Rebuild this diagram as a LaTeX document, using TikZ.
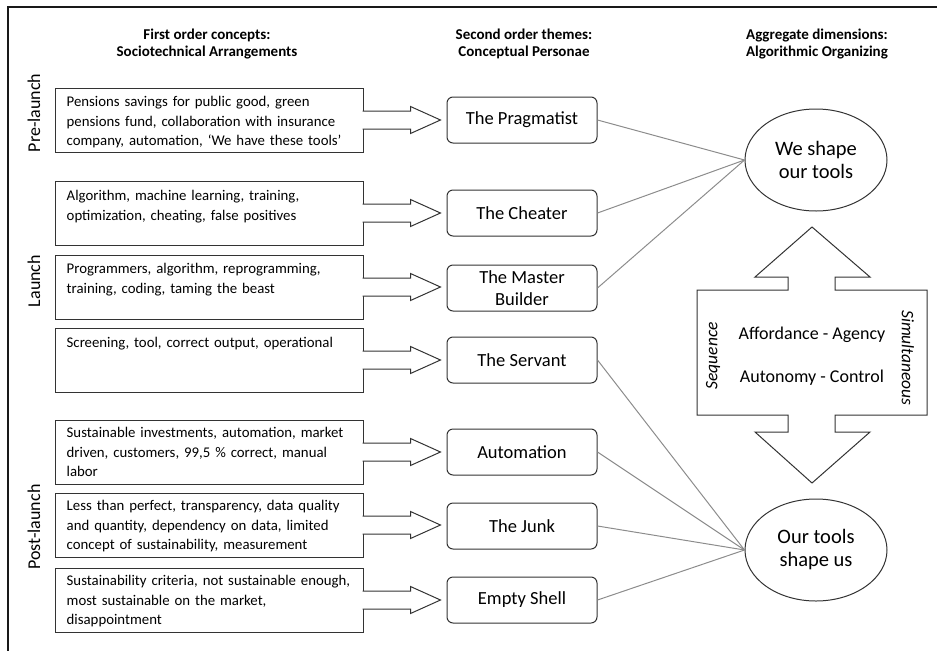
\documentclass[tikz,border=0pt]{standalone}
\usepackage{fontspec}
\setmainfont{Carlito}
\usetikzlibrary{calc,shapes.geometric}
\newcommand\blockarr[1]{%
  \draw[barrow] ([xshift=-1pt,yshift=9pt]#1.east) -- ([xshift=47pt,yshift=9pt]#1.east)
    -- ([xshift=47pt,yshift=13.5pt]#1.east) -- ([xshift=77pt]#1.east)
    -- ([xshift=47pt,yshift=-13.5pt]#1.east) -- ([xshift=47pt,yshift=-9pt]#1.east)
    -- ([xshift=-1pt,yshift=-9pt]#1.east);}
\begin{document}
\begin{tikzpicture}[x=1pt,y=-1pt,
  lbox/.style={draw=black!80, line width=1pt, minimum width=308pt, minimum height=64pt, inner sep=0pt},
  ltext/.style={anchor=north west, align=left, inner sep=0pt, text width=298pt, font=\fontsize{14.8}{19.5}\selectfont},
  mbox/.style={draw=black!80, line width=1pt, rounded corners=6pt, minimum width=150pt, minimum height=46pt, align=center, inner sep=1pt, font=\fontsize{18.5}{22.5}\selectfont},
  ell/.style={draw=black!80, line width=1pt, ellipse, minimum width=142pt, minimum height=102pt, inner sep=0pt, align=center, font=\fontsize{20.5}{23}\selectfont},
  barrow/.style={draw=black!80, line width=1pt, fill=white},
  link/.style={draw=black!45, line width=1pt},
  head/.style={font=\bfseries\fontsize{15}{17.5}\selectfont, align=center},
  phase/.style={rotate=90, font=\fontsize{18}{21}\selectfont},
  mid/.style={font=\fontsize{18}{21}\selectfont},
  side/.style={font=\itshape\fontsize{17.5}{20}\selectfont}
]
\useasboundingbox (0,0) rectangle (937,651);
% frame
\draw[line width=2pt, black!90] (937,7) -- (8,7) -- (8,651);

% headers
\node[head] (h1) at (207,44) {First order concepts:\\Sociotechnical Arrangements};
\node[head] (h2) at (524,44) {Second order themes:\\Conceptual Personae};
\node[head] (h3) at (817,44) {Aggregate dimensions:\\Algorithmic Organizing};

% phases
\node[phase] (p1) at (34,113) {Pre-launch};
\node[phase] (p2) at (34,281) {Launch};
\node[phase] (p3) at (34,527) {Post-launch};

% left boxes
\node[lbox] (b1) at (209,120) {};
\node[lbox] (b2) at (209,213) {};
\node[lbox] (b3) at (209,287) {};
\node[lbox] (b4) at (209,360) {};
\node[lbox] (b5) at (209,452) {};
\node[lbox] (b6) at (209,525) {};
\node[lbox] (b7) at (209,600) {};

\node[ltext] (t1) at ([xshift=12pt,yshift=-9pt]b1.north west) {Pensions savings for public good, green\\pensions fund, collaboration with insurance\\company, automation, ‘We have these tools’};
\node[ltext] (t2) at ([xshift=12pt,yshift=-10pt]b2.north west) {Algorithm, machine learning, training,\\optimization, cheating, false positives};
\node[ltext] (t3) at ([xshift=12pt,yshift=-9pt]b3.north west) {Programmers, algorithm, reprogramming,\\training, coding, taming the beast};
\node[ltext] (t4) at ([xshift=12pt,yshift=-10pt]b4.north west) {Screening, tool, correct output, operational};
\node[ltext] (t5) at ([xshift=12pt,yshift=-8pt]b5.north west) {Sustainable investments, automation, market\\driven, customers, 99,5 \% correct, manual\\labor};
\node[ltext] (t6) at ([xshift=12pt,yshift=-8pt]b6.north west) {Less than perfect, transparency, data quality\\and quantity, dependency on data, limited\\concept of sustainability, measurement};
\node[ltext] (t7) at ([xshift=12pt,yshift=-8pt]b7.north west) {Sustainability criteria, not sustainable enough,\\most sustainable on the market,\\disappointment};

% middle boxes
\node[mbox] (m1) at (522,120) {The Pragmatist};
\node[mbox] (m2) at (522,213) {The Cheater};
\node[mbox] (m3) at (522,288) {The Master\\Builder};
\node[mbox] (m4) at (522,360) {The Servant};
\node[mbox] (m5) at (522,452) {Automation};
\node[mbox] (m6) at (522,526) {The Junk};
\node[mbox] (m7) at (522,600) {Empty Shell};

% block arrows
\blockarr{b1}\blockarr{b2}\blockarr{b3}\blockarr{b4}\blockarr{b5}\blockarr{b6}\blockarr{b7}

% ellipses
\node[ell] (e1) at (816,160) {We shape\\our tools};
\node[ell] (e2) at (816,550) {Our tools\\shape us};

% links
\foreach \m in {m1,m2,m3} \draw[link] (\m.east) -- (e1.west);
\foreach \m in {m4,m5,m6,m7} \draw[link] (\m.east) -- (e2.west);

% double block arrow
\draw[barrow] (812,227) -- (870,277) -- (835,277) -- (835,290) -- (927,290) -- (927,415)
  -- (835,415) -- (835,432) -- (870,432) -- (812,483) -- (755,432) -- (788,432)
  -- (788,415) -- (697,415) -- (697,290) -- (788,290) -- (788,277) -- (755,277) -- cycle;
\node[mid] (a1) at (812,335) {Affordance - Agency};
\node[mid] (a2) at (812,378) {Autonomy - Control};
\node[side, rotate=90] (s1) at (713,356) {Sequence};
\node[side, rotate=-90] (s2) at (908,358) {Simultaneous};
\end{tikzpicture}
\end{document}
